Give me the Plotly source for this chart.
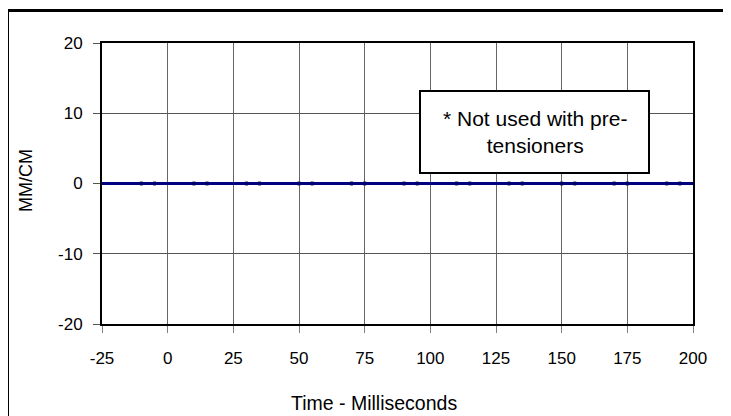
import plotly.graph_objects as go

# Data
time_ms = [-25, -10, -5, 10, 15, 30, 35, 50, 55, 70, 75, 90, 95,
           110, 115, 130, 135, 150, 155, 170, 175, 190, 195, 200]
mm_per_cm = [0, 0, 0, 0, 0, 0, 0, 0, 0, 0, 0, 0, 0,
             0, 0, 0, 0, 0, 0, 0, 0, 0, 0, 0]
marker_sizes = [0, 3, 3, 3, 3, 3, 3, 3, 3, 3, 3, 3, 3,
                3, 3, 3, 3, 3, 3, 3, 3, 3, 3, 0]
x_ticks = [-25, 0, 25, 50, 75, 100, 125, 150, 175, 200]
y_ticks = [-20, -10, 0, 10, 20]
note_text = "* Not used with pre-<br>tensioners"
x_title = "Time - Milliseconds"
y_title = "MM/CM"

FONT = "Liberation Sans, Arial, sans-serif"

fig = go.Figure()
fig.add_trace(go.Scatter(
    x=time_ms, y=mm_per_cm, mode="lines+markers",
    line=dict(color="#000080", width=3),
    marker=dict(symbol="line-ns", size=marker_sizes, color="#000050",
                line=dict(width=3, color="#000050")),
    showlegend=False, hoverinfo="skip",
))

OFF = 8  # page body margin
PW, PH = 731, 416
W, H = PW - OFF, PH - OFF
# plot area in page pixels
PL, PR, PT, PB = 102, 693, 43, 324
L, T = PL - OFF, PT - OFF
R, B = W - (PR - OFF), H - (PB - OFF)
pw, ph = W - L - R, H - T - B

def px(x):
    return (x - PL) / pw

def py(y):
    return (PB - y) / ph

fig.update_layout(
    width=W, height=H,
    margin=dict(l=L, r=R, t=T, b=B),
    paper_bgcolor="white", plot_bgcolor="white",
    font=dict(family=FONT, size=17, color="black"),
    xaxis=dict(range=[-25, 200], tickvals=x_ticks, ticktext=[str(v) for v in x_ticks],
               showgrid=True, gridcolor="#666666", gridwidth=1,
               zeroline=False, showline=True, linecolor="black", linewidth=2,
               mirror=True, ticks="outside", ticklen=7, tickcolor="#808080",
               ticklabelstandoff=11, tickfont=dict(size=17)),
    yaxis=dict(range=[-20, 20], tickvals=y_ticks, ticktext=[str(v) for v in y_ticks],
               showgrid=True, gridcolor="#555555", gridwidth=1,
               zeroline=False, showline=True, linecolor="black", linewidth=2,
               mirror=True, ticks="outside", ticklen=7, tickcolor="#555555",
               ticklabelstandoff=7, tickfont=dict(size=17)),
    shapes=[
        dict(type="rect", xref="paper", yref="paper",
             x0=px(7.5), x1=px(760), y0=py(440), y1=py(10.5),
             line=dict(color="black", width=3), fillcolor="rgba(0,0,0,0)",
             layer="above"),
        dict(type="rect", xref="paper", yref="paper",
             x0=px(420), x1=px(649), y0=py(173), y1=py(91),
             line=dict(color="black", width=2), fillcolor="white",
             layer="above"),
    ],
    annotations=[
        dict(text=note_text, xref="paper", yref="paper",
             x=px(535), y=py(131.5), xanchor="center", yanchor="middle",
             showarrow=False, font=dict(size=21, family=FONT, color="black"),
             align="center"),
        dict(text=x_title, xref="paper", yref="paper",
             x=px(374), y=py(403), xanchor="center", yanchor="middle",
             showarrow=False, font=dict(size=19.5, family=FONT, color="black")),
        dict(text=y_title, xref="paper", yref="paper",
             x=px(26), y=py(181), xanchor="center", yanchor="middle",
             textangle=-90,
             showarrow=False, font=dict(size=18, family=FONT, color="black")),
    ],
)

fig.write_html("out.html")
